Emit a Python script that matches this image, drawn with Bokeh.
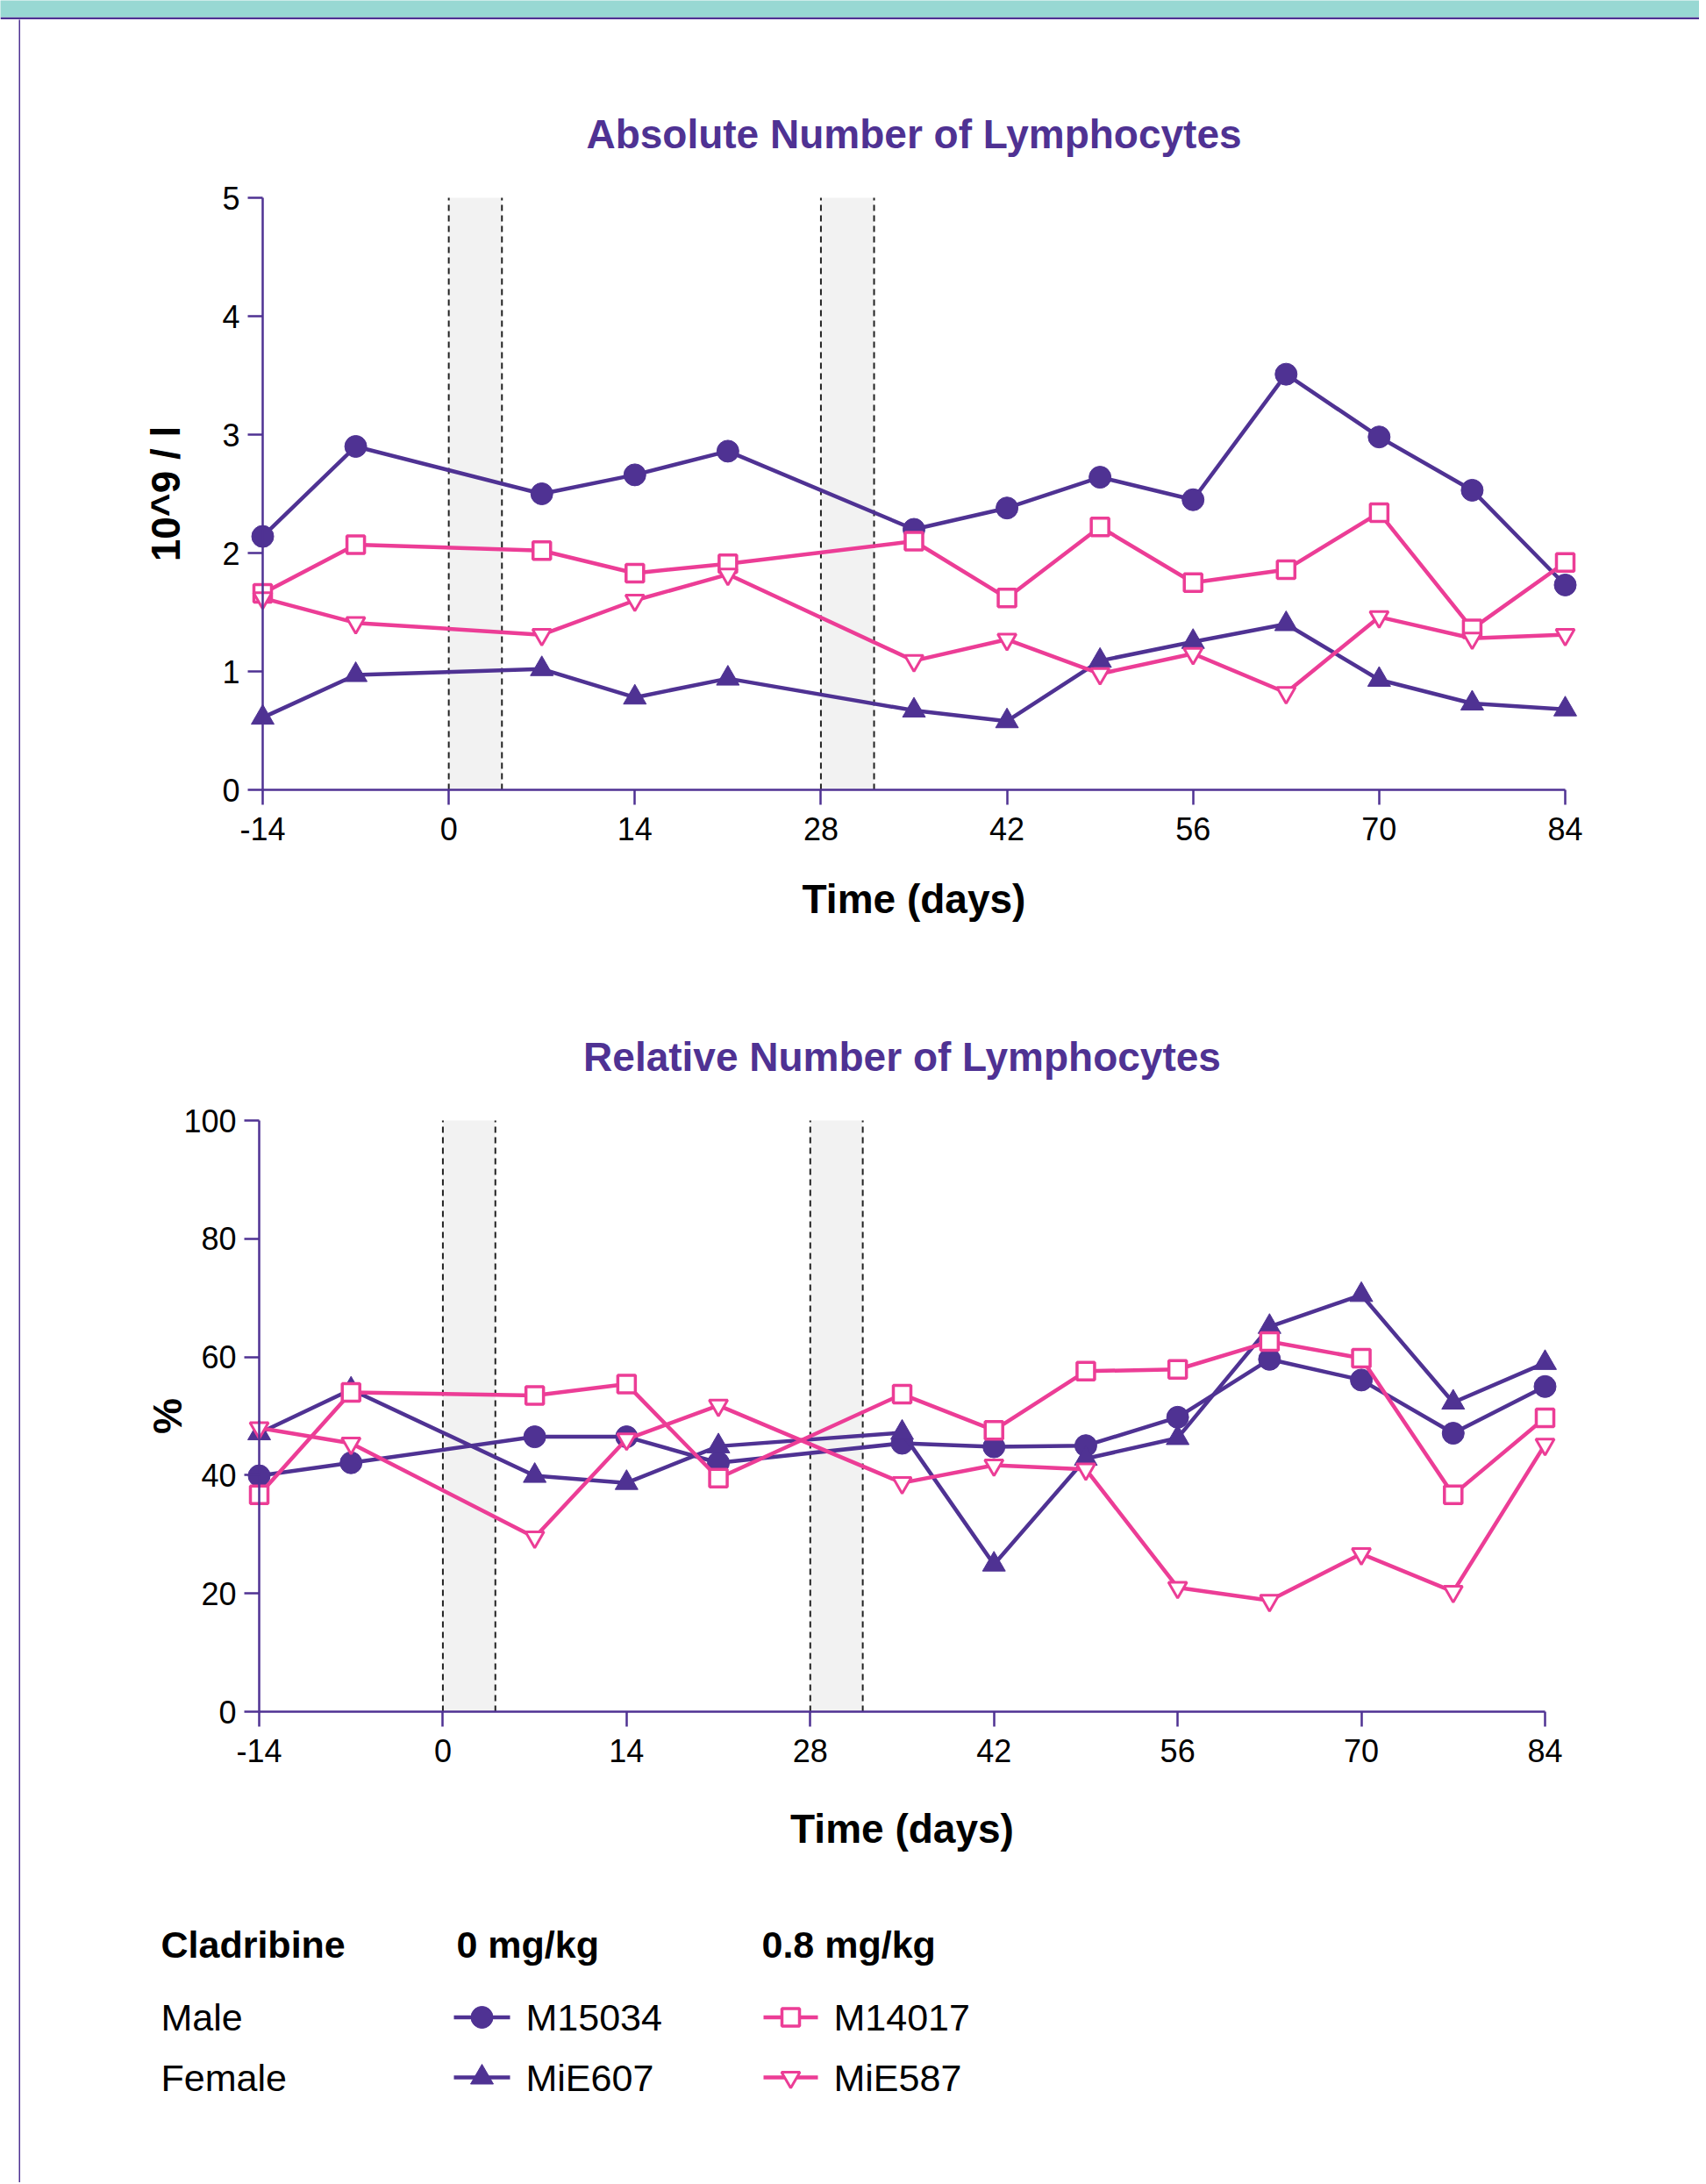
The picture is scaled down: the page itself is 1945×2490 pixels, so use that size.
import math
from bokeh.plotting import figure
from bokeh.models import Range1d, FixedTicker, Spacer, Label
from bokeh.layouts import column, row
from bokeh.embed import file_html
from bokeh.resources import INLINE
from bokeh.core.properties import value

# ---------------- data ----------------
days = [-14, -7, 7, 14, 21, 35, 42, 49, 56, 63, 70, 77, 84]
x_ticks = [-14, 0, 14, 28, 42, 56, 70, 84]
x_tick_labels = ["-14", "0", "14", "28", "42", "56", "70", "84"]
abs_ticks = [0, 1, 2, 3, 4, 5]
rel_ticks = [0, 20, 40, 60, 80, 100]
dosing_start = [0, 28]
dosing_end = [4, 32]

abs_M15034 = [2.14, 2.90, 2.50, 2.66, 2.86, 2.20, 2.38, 2.64, 2.45, 3.51, 2.98, 2.53, 1.73]
abs_MiE607 = [0.61, 0.97, 1.02, 0.78, 0.94, 0.67, 0.58, 1.09, 1.25, 1.40, 0.93, 0.73, 0.68]
abs_M14017 = [1.66, 2.07, 2.02, 1.83, 1.91, 2.10, 1.62, 2.22, 1.75, 1.86, 2.34, 1.36, 1.92]
abs_MiE587 = [1.62, 1.41, 1.31, 1.60, 1.82, 1.09, 1.27, 0.98, 1.15, 0.82, 1.46, 1.28, 1.31]

rel_M15034 = [39.9, 42.1, 46.5, 46.5, 42.1, 45.4, 44.8, 45.0, 49.8, 59.6, 56.1, 47.1, 55.0]
rel_MiE607 = [47.1, 54.5, 39.9, 38.7, 44.9, 47.2, 24.9, 42.8, 46.3, 65.1, 70.5, 52.3, 59.0]
rel_M14017 = [36.7, 54.0, 53.5, 55.4, 39.5, 53.7, 47.6, 57.6, 57.9, 62.6, 59.8, 36.7, 49.7]
rel_MiE587 = [48.0, 45.4, 29.5, 46.1, 51.8, 38.7, 41.7, 41.0, 21.0, 18.8, 26.7, 20.3, 45.2]

legend_headers = ["Cladribine", "0 mg/kg", "0.8 mg/kg"]
legend_rows = ["Male", "Female"]

# ---------------- styles ----------------
PURPLE = "#4f3293"
PINK = "#ec3d96"
TEAL = "#98d8d3"
BAND = "#f2f2f2"
FONT = value("Liberation Sans")
FONTNAME = "Liberation Sans"

SERIES = [
    # name, abs, rel, color, marker, fill, size, marker line width
    ("M15034", abs_M15034, rel_M15034, PURPLE, "circle", PURPLE, 25, 1),
    ("MiE607", abs_MiE607, rel_MiE607, PURPLE, "triangle", PURPLE, 26, 1),
    ("M14017", abs_M14017, rel_M14017, PINK, "square", "white", 20, 3.5),
    ("MiE587", abs_MiE587, rel_MiE587, PINK, "inverted_triangle", "white", 21, 3),
]

LEFT = 23        # page x where the content column starts
CW = 1914        # content width


def panel(title, ylabel, key, yticks, top, height, ax_px, title_dy, xlab_dy, ylab_dx):
    """ax_px = (x px of first x tick, x px of last x tick, y px of first y tick, y px of last y tick)"""
    ax_x0, ax_x1, ax_y0, ax_y1 = ax_px
    x0v, x1v = x_ticks[0], x_ticks[-1]
    y0v, y1v = yticks[0], yticks[-1]
    ppx = (ax_x1 - ax_x0) / (x1v - x0v)
    ppy = (ax_y0 - ax_y1) / (y1v - y0v)
    xs = x0v - (ax_x0 - LEFT) / ppx
    xe = x1v + (LEFT + CW - ax_x1) / ppx
    ye = y1v + (ax_y1 - top) / ppy
    ys = y0v - (top + height - ax_y0) / ppy

    p = figure(width=CW, height=height, x_range=Range1d(xs, xe), y_range=Range1d(ys, ye),
               min_border=0, toolbar_location=None, output_backend="svg")
    p.outline_line_color = None
    p.grid.visible = False

    # dosing bands
    p.quad(left=dosing_start, right=dosing_end, bottom=y0v, top=y1v,
           fill_color=BAND, line_color=None)
    for xx in (dosing_start, dosing_end):
        p.segment(x0=xx, x1=xx, y0=[y0v] * len(xx), y1=[y1v] * len(xx),
                  line_color="#222222", line_width=2, line_dash="7 5")

    for name, a, r, col, mk, fill, sz, lw in SERIES:
        ys_ = a if key == "abs" else r
        p.line(days, ys_, line_color=col, line_width=4.5)
        p.scatter(days, ys_, marker=mk, size=sz, fill_color=fill,
                  line_color=col, line_width=lw)

    for ax in (p.xaxis, p.yaxis):
        ax.axis_line_color = PURPLE
        ax.axis_line_width = 2.5
        ax.major_tick_line_color = PURPLE
        ax.major_tick_line_width = 2.5
        ax.major_tick_out = 17
        ax.major_tick_in = 0
        ax.minor_tick_line_color = None
        ax.major_label_text_font = FONTNAME
        ax.major_label_text_font_size = "36px"
        ax.major_label_text_color = "black"

    p.xaxis.ticker = FixedTicker(ticks=x_ticks)
    p.xaxis.major_label_overrides = dict(zip(x_ticks, x_tick_labels))
    p.xaxis.bounds = (x0v, x1v)
    p.xaxis.fixed_location = y0v
    p.xaxis.major_label_standoff = 14

    p.yaxis.ticker = FixedTicker(ticks=yticks)
    p.yaxis.bounds = (y0v, y1v)
    p.yaxis.fixed_location = x0v
    p.yaxis.major_label_standoff = 9

    xc = (x0v + x1v) / 2
    yc = (y0v + y1v) / 2
    p.add_layout(Label(x=xc, y=y1v, y_offset=title_dy, text=title, text_font=FONTNAME,
                       text_font_size="46px", text_font_style="bold", text_color=PURPLE,
                       text_align="center", text_baseline="middle"))
    p.add_layout(Label(x=xc, y=y0v, y_offset=-xlab_dy, text="Time (days)", text_font=FONTNAME,
                       text_font_size="46px", text_font_style="bold", text_color="black",
                       text_align="center", text_baseline="middle"))
    p.add_layout(Label(x=x0v, y=yc, x_offset=-ylab_dx, text=ylabel, text_font=FONTNAME,
                       text_font_size="46px", text_font_style="bold", text_color="black",
                       text_align="center", text_baseline="middle", angle=math.pi / 2))
    return p


P1_TOP, P1_H = 22, 1068
P2_TOP, P2_H = 1090, 1070
p1 = panel("Absolute Number of Lymphocytes", "10^9 / l", "abs", abs_ticks,
           P1_TOP, P1_H, (299, 1784, 900, 225), 73, 124, 111)
p2 = panel("Relative Number of Lymphocytes", "%", "rel", rel_ticks,
           P2_TOP, P2_H, (295, 1761, 1951, 1277), 73, 133, 105)

# ---------------- legend table ----------------
LEG_H = 328
leg = figure(width=CW, height=LEG_H, x_range=Range1d(0, CW), y_range=Range1d(LEG_H, 0),
             min_border=0, toolbar_location=None, output_backend="svg",
             x_axis_type=None, y_axis_type=None)
leg.outline_line_color = None
leg.grid.visible = False

col_x = [160, 497, 845]
leg.text(x=col_x, y=[56] * 3, text=legend_headers, text_font=FONT,
         text_font_size="43px", text_font_style="bold", text_color="black",
         text_baseline="middle")
row_y = [139.5, 208]
leg.text(x=[col_x[0]] * 2, y=row_y, text=legend_rows, text_font=FONT,
         text_font_size="43px", text_color="black", text_baseline="middle")

sample_x = {PURPLE: (494, 558), PINK: (847, 909)}
for i, (name, a, r, col, mk, fill, sz, lw) in enumerate(SERIES):
    rr = i % 2
    x0, x1 = sample_x[col]
    yc = row_y[rr]
    leg.segment(x0=[x0], x1=[x1], y0=[yc], y1=[yc], line_color=col, line_width=4.5)
    leg.scatter(x=[(x0 + x1) / 2], y=[yc], marker=mk, size=sz, fill_color=fill,
                line_color=col, line_width=lw)
    leg.text(x=[x1 + 18], y=[yc], text=[name], text_font=FONT,
             text_font_size="43px", text_color="black", text_baseline="middle")

# ---------------- page decoration ----------------
header = figure(width=LEFT + CW, height=22, min_border_left=0, min_border_right=0,
                min_border_top=0, min_border_bottom=3, toolbar_location=None,
                output_backend="svg", x_axis_type=None, y_axis_type=None)
header.background_fill_color = TEAL
header.border_fill_color = PURPLE
header.outline_line_color = None
header.grid.visible = False

content = column(row(p1), row(p2), row(leg))
total_h = p1.height + p2.height + LEG_H

border = figure(width=2, height=total_h, min_border=0, toolbar_location=None,
                output_backend="svg", x_axis_type=None, y_axis_type=None)
border.background_fill_color = PURPLE
border.border_fill_color = PURPLE
border.outline_line_color = None
border.grid.visible = False

page = column(header, row(Spacer(width=LEFT - 2, height=total_h), border, content))

open("out.html", "w").write(file_html(page, INLINE))
